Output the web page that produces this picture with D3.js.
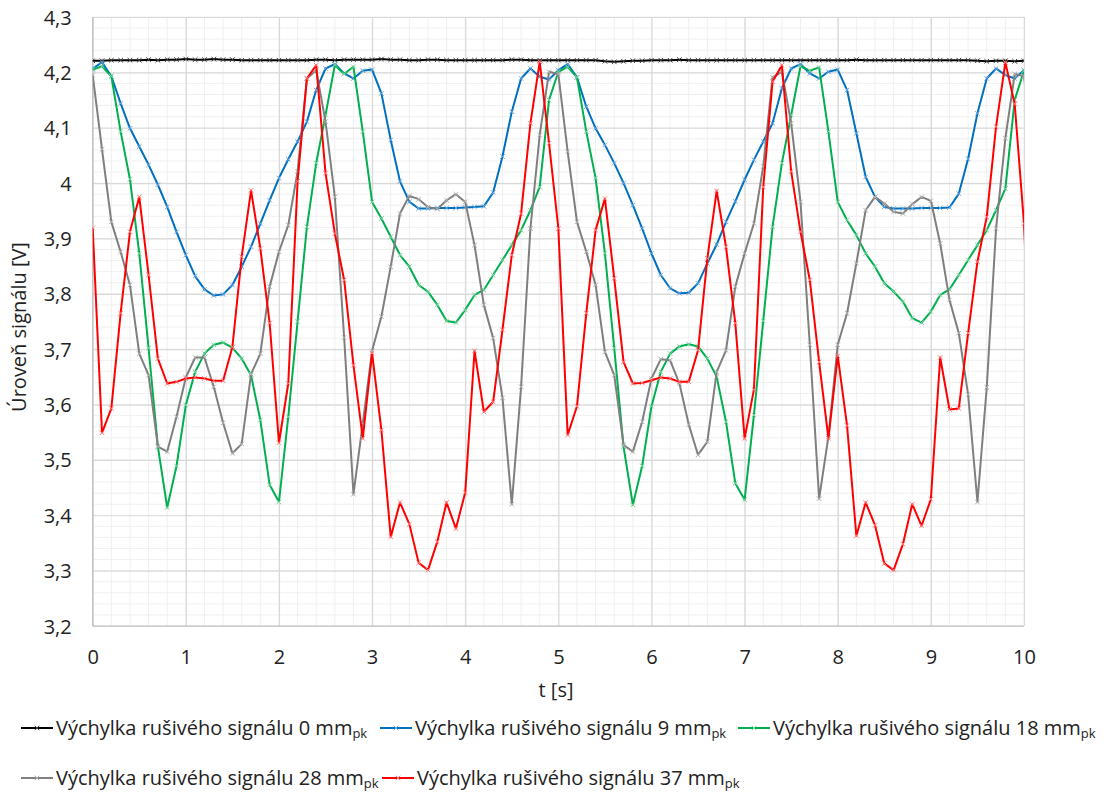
<!DOCTYPE html>
<html>
<head>
<meta charset="utf-8">
<title>Úroveň signálu</title>
<style>
  body { margin: 0; background: #fff; }
  svg text { font-family: "Open Sans", sans-serif; fill: #222; }
</style>
</head>
<body>
<svg id="chart" width="1111" height="797"></svg>
<script src="https://d3js.org/d3.v7.min.js"></script>
<script>
// sample times: every 0.1 s from 0 to 10.1 (last one is clipped by the plot edge)
var times = d3.range(0, 102).map(function (i) { return i / 10; });

var yTicks = [3.2, 3.3, 3.4, 3.5, 3.6, 3.7, 3.8, 3.9, 4.0, 4.1, 4.2, 4.3];
var xTicks = [0, 1, 2, 3, 4, 5, 6, 7, 8, 9, 10];

var amp0 = [4.221, 4.221, 4.222, 4.222, 4.222, 4.222, 4.223, 4.222, 4.223, 4.223,
            4.224, 4.223, 4.223, 4.224, 4.223, 4.223, 4.222, 4.222, 4.222, 4.222,
            4.222, 4.222, 4.222, 4.222, 4.223, 4.223, 4.222, 4.223, 4.223, 4.223,
            4.223, 4.224, 4.223, 4.223, 4.222, 4.222, 4.223, 4.223, 4.222, 4.222,
            4.222, 4.222, 4.222, 4.222, 4.222, 4.223, 4.223, 4.222, 4.222, 4.222,
            4.222, 4.222, 4.222, 4.222, 4.222, 4.220, 4.219, 4.220, 4.221, 4.221,
            4.222, 4.222, 4.222, 4.223, 4.222, 4.222, 4.222, 4.222, 4.222, 4.222,
            4.222, 4.222, 4.222, 4.222, 4.222, 4.222, 4.222, 4.222, 4.222, 4.222,
            4.222, 4.222, 4.223, 4.222, 4.222, 4.222, 4.222, 4.222, 4.222, 4.222,
            4.222, 4.222, 4.222, 4.222, 4.222, 4.221, 4.220, 4.221, 4.221, 4.220,
            4.221, 4.221];

var amp9 = [4.207, 4.218, 4.193, 4.144, 4.099, 4.066, 4.033, 3.997, 3.957, 3.912,
            3.870, 3.832, 3.808, 3.797, 3.799, 3.816, 3.849, 3.885, 3.927, 3.969,
            4.009, 4.043, 4.075, 4.111, 4.168, 4.207, 4.215, 4.198, 4.189, 4.203,
            4.205, 4.162, 4.078, 4.003, 3.966, 3.954, 3.954, 3.955, 3.955, 3.955,
            3.956, 3.957, 3.958, 3.983, 4.048, 4.129, 4.189, 4.207, 4.192, 4.187,
            4.204, 4.215, 4.191, 4.138, 4.099, 4.069, 4.036, 4.000, 3.960, 3.918,
            3.873, 3.834, 3.810, 3.801, 3.802, 3.819, 3.855, 3.889, 3.930, 3.967,
            4.006, 4.042, 4.075, 4.108, 4.171, 4.207, 4.215, 4.198, 4.189, 4.201,
            4.205, 4.168, 4.090, 4.011, 3.975, 3.957, 3.954, 3.954, 3.954, 3.955,
            3.955, 3.955, 3.956, 3.981, 4.044, 4.126, 4.189, 4.207, 4.195, 4.189,
            4.204, 4.214];

var amp18 = [4.205, 4.211, 4.193, 4.093, 4.007, 3.873, 3.702, 3.524, 3.414, 3.489,
             3.599, 3.659, 3.692, 3.708, 3.712, 3.703, 3.683, 3.653, 3.572, 3.455,
             3.424, 3.578, 3.750, 3.921, 4.036, 4.123, 4.213, 4.197, 4.210, 4.093,
             3.966, 3.936, 3.903, 3.870, 3.849, 3.816, 3.804, 3.780, 3.751, 3.748,
             3.771, 3.798, 3.807, 3.834, 3.861, 3.888, 3.915, 3.951, 3.993, 4.150,
             4.201, 4.210, 4.191, 4.093, 4.009, 3.873, 3.702, 3.524, 3.419, 3.489,
             3.597, 3.659, 3.692, 3.705, 3.709, 3.705, 3.683, 3.650, 3.569, 3.458,
             3.428, 3.581, 3.751, 3.921, 4.036, 4.123, 4.211, 4.203, 4.209, 4.093,
             3.966, 3.933, 3.906, 3.873, 3.849, 3.819, 3.804, 3.786, 3.756, 3.748,
             3.768, 3.798, 3.808, 3.834, 3.861, 3.888, 3.915, 3.951, 3.990, 4.150,
             4.203, 4.210];

var amp28 = [4.195, 4.061, 3.930, 3.876, 3.816, 3.692, 3.653, 3.524, 3.515, 3.578,
             3.649, 3.685, 3.685, 3.632, 3.567, 3.512, 3.529, 3.655, 3.692, 3.813,
             3.876, 3.924, 4.021, 4.189, 4.204, 4.111, 3.975, 3.721, 3.438, 3.566,
             3.697, 3.759, 3.849, 3.945, 3.977, 3.971, 3.957, 3.953, 3.969, 3.980,
             3.966, 3.888, 3.780, 3.720, 3.612, 3.420, 3.632, 3.918, 4.087, 4.201,
             4.197, 4.057, 3.930, 3.876, 3.816, 3.695, 3.653, 3.527, 3.515, 3.569,
             3.647, 3.682, 3.680, 3.638, 3.564, 3.509, 3.533, 3.659, 3.698, 3.813,
             3.873, 3.927, 4.030, 4.191, 4.201, 4.108, 3.966, 3.708, 3.430, 3.542,
             3.708, 3.765, 3.855, 3.951, 3.975, 3.963, 3.948, 3.945, 3.962, 3.975,
             3.968, 3.891, 3.789, 3.729, 3.618, 3.424, 3.631, 3.918, 4.081, 4.197,
             4.193, 4.060];

var amp37 = [3.919, 3.549, 3.593, 3.765, 3.912, 3.975, 3.834, 3.683, 3.638, 3.641,
             3.647, 3.649, 3.647, 3.643, 3.643, 3.704, 3.867, 3.987, 3.882, 3.747,
             3.531, 3.638, 4.003, 4.189, 4.213, 4.018, 3.909, 3.825, 3.671, 3.539,
             3.693, 3.554, 3.361, 3.423, 3.384, 3.314, 3.301, 3.352, 3.423, 3.376,
             3.441, 3.697, 3.587, 3.605, 3.735, 3.870, 3.945, 4.108, 4.219, 4.072,
             3.918, 3.545, 3.597, 3.765, 3.915, 3.972, 3.828, 3.677, 3.638, 3.639,
             3.644, 3.649, 3.647, 3.641, 3.641, 3.698, 3.864, 3.986, 3.885, 3.747,
             3.539, 3.627, 3.993, 4.183, 4.213, 4.021, 3.912, 3.825, 3.677, 3.539,
             3.688, 3.562, 3.363, 3.423, 3.382, 3.313, 3.301, 3.348, 3.420, 3.381,
             3.429, 3.685, 3.591, 3.593, 3.729, 3.858, 3.939, 4.102, 4.218, 4.143,
             3.927, 3.550];

var seriesNames = ["0", "9", "18", "28", "37"];
var seriesValues = [amp0, amp9, amp18, amp28, amp37];
var lineColors = ["#000000", "#0070C0", "#00B050", "#7F7F7F", "#FF0000"];
var markColors = ["#404040", "#6FA8DC", "#7FD3A0", "#B0B0B0", "#FF8080"];

var svg = d3.select("#chart");
var pLeft = 92.7, pRight = 1024, pTop = 17, pBottom = 626;

var x = d3.scaleLinear().domain([0, 10]).range([pLeft, pRight]);
var y = d3.scaleLinear().domain([3.2, 4.3]).range([pBottom, pTop]);

// minor grid
var grid = svg.append("g");
grid.selectAll("line.vmin").data(d3.range(0, 51).map(function (i) { return i * 0.2; }))
  .enter().append("line")
  .attr("x1", function (d) { return x(d); }).attr("x2", function (d) { return x(d); })
  .attr("y1", pTop).attr("y2", pBottom)
  .style("stroke", "#F0F0F0").style("stroke-width", 1);
grid.selectAll("line.hmin").data(d3.range(0, 56).map(function (i) { return 3.2 + i * 0.02; }))
  .enter().append("line")
  .attr("x1", pLeft).attr("x2", pRight)
  .attr("y1", function (d) { return y(d); }).attr("y2", function (d) { return y(d); })
  .style("stroke", "#F0F0F0").style("stroke-width", 1);

// major grid + ticks via axes
var yAxis = d3.axisLeft(y).tickValues(yTicks).tickSize(-(pRight - pLeft)).tickPadding(21)
  .tickFormat(function (d) { return d3.format(".1f")(d).replace(".0", "").replace(".", ","); });
var gy = svg.append("g").attr("transform", "translate(" + pLeft + ",0)").call(yAxis);
gy.select(".domain").remove();
gy.selectAll(".tick line").style("stroke", "#D9D9D9").style("stroke-width", 1.2);
gy.selectAll(".tick text").style("font-size", "20px").attr("dy", "0.35em");

var xAxis = d3.axisBottom(x).tickValues(xTicks).tickSize(-(pBottom - pTop)).tickPadding(16);
var gx = svg.append("g").attr("transform", "translate(0," + pBottom + ")").call(xAxis);
gx.select(".domain").remove();
gx.selectAll(".tick line").style("stroke", "#D9D9D9").style("stroke-width", 1.2);
gx.selectAll(".tick text").style("font-size", "20px").attr("dy", "0.35em").attr("y", 31);

// axis lines
svg.append("line").attr("x1", pLeft).attr("x2", pLeft).attr("y1", pTop).attr("y2", pBottom)
  .style("stroke", "#BFBFBF").style("stroke-width", 1.2);
svg.append("line").attr("x1", pLeft).attr("x2", pRight).attr("y1", pBottom).attr("y2", pBottom)
  .style("stroke", "#BFBFBF").style("stroke-width", 1.2);

svg.append("clipPath").attr("id", "plotclip").append("rect")
  .attr("x", pLeft).attr("y", pTop - 5).attr("width", pRight - pLeft).attr("height", pBottom - pTop + 10);

var line = d3.line()
  .x(function (d, i) { return x(times[i]); })
  .y(function (d) { return y(d); });

function xMark(s) {
  return "M" + (-s) + "," + (-s) + "L" + s + "," + s + "M" + (-s) + "," + s + "L" + s + "," + (-s);
}

var plot = svg.append("g").attr("clip-path", "url(#plotclip)");
seriesValues.forEach(function (vals, k) {
  var g = plot.append("g");
  g.append("path").datum(vals).attr("d", line)
    .style("fill", "none").style("stroke", lineColors[k])
    .style("stroke-width", 2).style("stroke-linejoin", "round");
  g.selectAll("path.m").data(vals).enter().append("path")
    .attr("transform", function (d, i) { return "translate(" + x(times[i]) + "," + y(d) + ")"; })
    .attr("d", xMark(2.3))
    .style("stroke", markColors[k]).style("stroke-width", 1).style("fill", "none");
});

// axis titles
svg.append("text").attr("x", 556).attr("y", 697)
  .attr("text-anchor", "middle").style("font-size", "20px").text("t [s]");
svg.append("text").attr("transform", "translate(26,327) rotate(-90)")
  .attr("text-anchor", "middle").style("font-size", "20px").text("Úroveň signálu [V]");

// legend
var legendPos = [[21, 728], [380, 728], [738, 728], [21, 778], [382, 778]];
seriesNames.forEach(function (name, k) {
  var p = legendPos[k];
  var g = svg.append("g").attr("transform", "translate(" + p[0] + "," + p[1] + ")");
  g.append("line").attr("x1", 0).attr("x2", 32).attr("y1", 0).attr("y2", 0)
    .style("stroke", lineColors[k]).style("stroke-width", 2);
  g.append("path").attr("transform", "translate(16,0)").attr("d", xMark(2.3))
    .style("stroke", markColors[k]).style("stroke-width", 1);
  var t = g.append("text").attr("x", 35).attr("y", 7).style("font-size", "20px");
  t.append("tspan").text("Výchylka rušivého signálu " + name + " mm");
  t.append("tspan").attr("dy", 3).style("font-size", "13px").text("pk");
});
</script>
</body>
</html>
